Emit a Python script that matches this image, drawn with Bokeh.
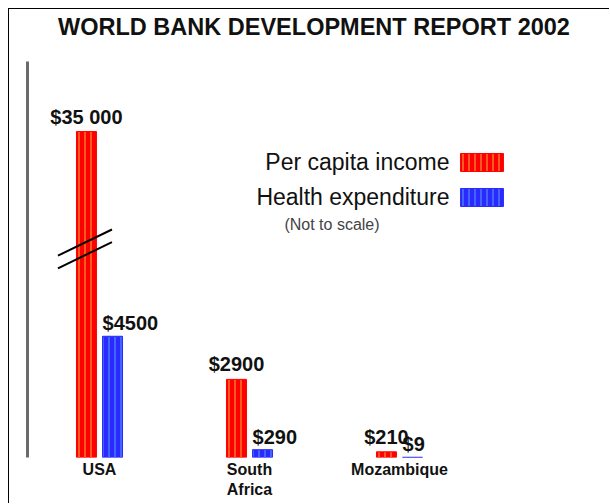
from bokeh.plotting import figure
from bokeh.models import (Range1d, FixedTicker, ColumnDataSource, LabelSet, Label, Title)
from bokeh.core.properties import value
from bokeh.embed import file_html
from bokeh.resources import INLINE

# ---- data ----
title_text = "WORLD BANK DEVELOPMENT REPORT 2002"
countries = ["USA", "South Africa", "Mozambique"]
country_labels = ["USA", "South\nAfrica", "Mozambique"]
series_names = ["Per capita income", "Health expenditure"]
income = [35000, 2900, 210]
health = [4500, 290, 9]
note_text = "(Not to scale)"

# ---- styling / layout ----
FONT = "Liberation Sans"
RED, RED_HATCH = "#ff0000", "#ff5a1e"
BLUE, BLUE_HATCH = "#2a2aff", "#4066ff"
Y_TOP = 14700          # visible top of the (not to scale) value axis
CAP = 12100            # the broken USA bar is drawn up to here
BAR_W = 0.133
OFF = 0.087

xs = list(range(len(countries)))

def fmt(v):
    return "$" + (f"{v:,}".replace(",", " ") if v >= 10000 else str(v))

p = figure(width=601, height=495,
           x_range=Range1d(-0.48, 3.34), y_range=Range1d(0, Y_TOP),
           output_backend="svg", toolbar_location=None,
           min_border_left=18, min_border_right=10,
           min_border_top=52, min_border_bottom=47)
p.styles = {"margin-left": "8px", "margin-top": "8px",
            "border-left": "1px solid #000", "border-top": "1px solid #000"}
p.outline_line_color = None
p.xgrid.grid_line_color = None
p.ygrid.grid_line_color = None

p.title.text = title_text
p.title.align = "center"
p.title.vertical_align = "top"
p.title.text_font = FONT
p.title.text_font_size = "23.5px"
p.title.text_font_style = "bold"
p.title.text_color = "#111111"
p.title.standoff = 2
# blank spacer between the title and the plotting area
p.add_layout(Title(text=" ", text_font_size="10px", standoff=6,
                   text_color="#ffffff"), "above")

# axes
p.yaxis.ticker = FixedTicker(ticks=[])
p.yaxis.axis_line_color = "#6b6b6b"
p.yaxis.axis_line_width = 3
p.yaxis.major_tick_line_color = None
p.yaxis.minor_tick_line_color = None
p.yaxis.major_label_text_font_size = "0px"
p.yaxis.major_tick_out = 0
p.yaxis.major_label_standoff = 0

p.xaxis.ticker = FixedTicker(ticks=xs)
p.xaxis.major_label_overrides = {i: lab for i, lab in zip(xs, country_labels)}
p.xaxis.axis_line_color = None
p.xaxis.major_tick_line_color = None
p.xaxis.minor_tick_line_color = None
p.xaxis.major_tick_out = 0
p.xaxis.major_tick_in = 0
p.xaxis.major_label_standoff = 3
p.xaxis.major_label_text_font = FONT
p.xaxis.major_label_text_font_size = "16px"
p.xaxis.major_label_text_font_style = "bold"
p.xaxis.major_label_text_color = "#111111"

# bars
red_x = [x - OFF for x in xs]
blue_x = [x + OFF for x in xs]
src_red = ColumnDataSource(dict(x=red_x, top=[min(v, CAP) for v in income],
                                lab=[fmt(v) for v in income]))
src_blue = ColumnDataSource(dict(x=blue_x, top=[min(v, CAP) for v in health],
                                 lx=[x - BAR_W / 2 for x in blue_x],
                                 lab=[fmt(v) for v in health]))
p.vbar(x="x", top="top", bottom=0, width=BAR_W, source=src_red,
       fill_color=RED, line_color=RED, line_width=1,
       hatch_pattern="|", hatch_color=RED_HATCH, hatch_weight=2, hatch_scale=6)
p.vbar(x="x", top="top", bottom=0, width=BAR_W, source=src_blue,
       fill_color=BLUE, line_color=BLUE, line_width=1,
       hatch_pattern="|", hatch_color=BLUE_HATCH, hatch_weight=2, hatch_scale=6)

# break marks on the capped bar
bx = red_x[0]
by = 0.64 * CAP
p.segment(x0=[bx - 0.19, bx - 0.19], y0=[by - 250, by - 720],
          x1=[bx + 0.17, bx + 0.17], y1=[by + 720, by + 250],
          line_color="#000000", line_width=2)

# value labels
p.add_layout(LabelSet(x="x", y="top", text="lab", source=src_red,
                      text_align="center", text_baseline="alphabetic", y_offset=8,
                      text_font=value(FONT), text_font_size="20px",
                      text_font_style="bold", text_color="#111111"))
p.add_layout(LabelSet(x="lx", y="top", text="lab", source=src_blue,
                      text_align="left", text_baseline="alphabetic", y_offset=6,
                      text_font=value(FONT), text_font_size="20px",
                      text_font_style="bold", text_color="#111111"))

# legend (labels on the left, swatches on the right)
leg_text_x = 2.333
sw_l, sw_r = 2.407, 2.693
rows_y = [10951, 9652]
colors = [(RED, RED_HATCH), (BLUE, BLUE_HATCH)]
for name, ry, (fc, hc) in zip(series_names, rows_y, colors):
    p.add_layout(Label(x=leg_text_x, y=ry, text=name, text_align="right",
                       text_baseline="middle", text_font=FONT,
                       text_font_size="23px", text_color="#111111"))
    p.quad(left=sw_l, right=sw_r, bottom=ry - 334, top=ry + 334,
           fill_color=fc, line_color=fc, line_width=1,
           hatch_pattern="|", hatch_color=hc, hatch_weight=2, hatch_scale=6)
p.add_layout(Label(x=1.55, y=8649, text=note_text, text_align="center",
                   text_baseline="middle", text_font=FONT,
                   text_font_size="16px", text_color="#444444"))

open("out.html", "w").write(file_html(p, INLINE))
